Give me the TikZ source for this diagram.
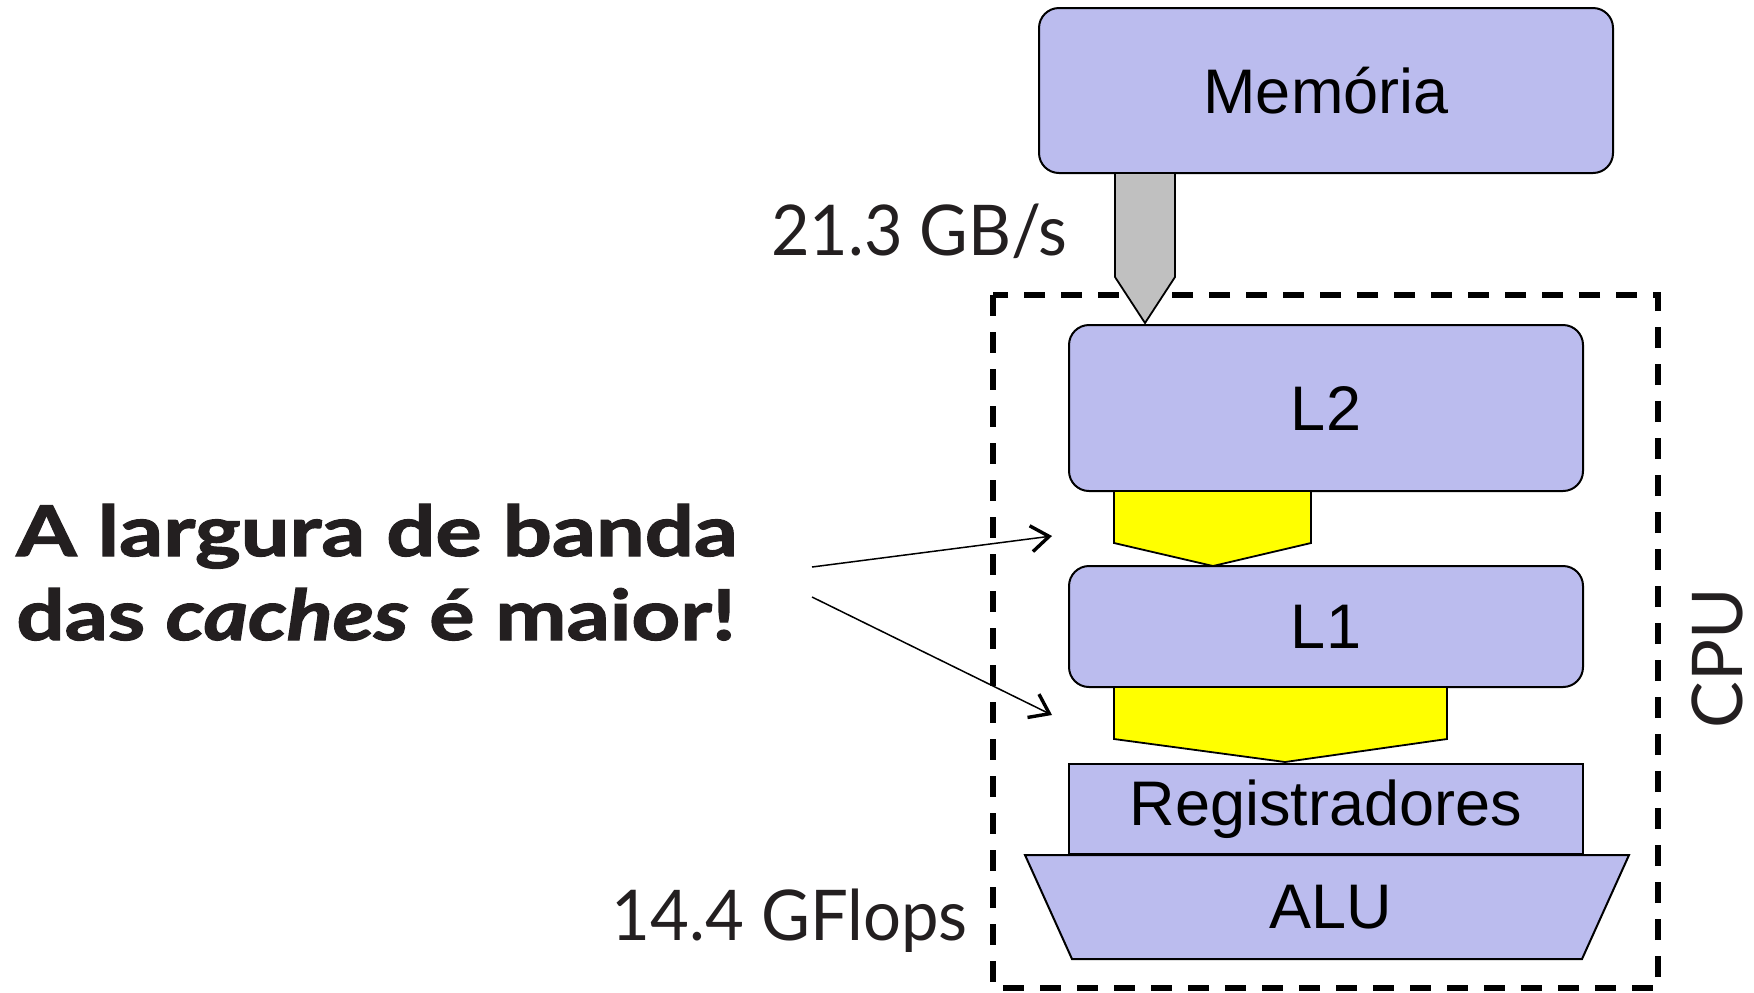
\documentclass[tikz,border=0pt]{standalone}
\usepackage{fontspec}
\setmainfont{Liberation Sans}
\newfontfamily\gill{Lato}
\newfontfamily\heavyface{Lato}[BoldFeatures={FakeBold=1.6},BoldItalicFeatures={FakeBold=1.6}]
\newcommand\heavytext{\heavyface\bfseries}
\usetikzlibrary{arrows.meta}
\definecolor{lav}{RGB}{187,188,238}
\definecolor{ink}{RGB}{35,31,32}
\definecolor{busgray}{RGB}{192,192,192}
\definecolor{busyellow}{RGB}{255,255,0}
\begin{document}
\begin{tikzpicture}[x=0.5pt,y=-0.5pt,
  unit/.style={draw, line width=1pt, fill=lav, inner sep=0pt,
    font=\fontsize{31.5}{36}\selectfont},
  roundbox/.style={unit, rounded corners=10pt},
  bus/.style={draw, line width=0.9pt, line join=miter},
  cpubox/.style={draw, line width=2.75pt, dash pattern=on 10.5pt off 8pt},
  gauge/.style={font=\gill\fontsize{35}{40}\selectfont, text=ink, inner sep=0pt},
  claim/.style={font=\heavytext\fontsize{35}{40}\selectfont, text=ink, inner sep=0pt},
  pointer/.style={line width=0.75pt,
    -{Straight Barb[length=9pt,width=13pt,line width=1.7pt]}}]
\useasboundingbox (0,0) rectangle (1754,992);

% CPU boundary
\draw[cpubox] (993,295) rectangle (1658,988);
\node[gauge, rotate=90] (cpu) at (1717,658) {CPU};

% main memory and its bus into the CPU
\node[roundbox, minimum width=287pt, minimum height=82.5pt] (mem) at (1326,90.5) {Memória};
\node[roundbox, minimum width=257pt, minimum height=83pt] (l2) at (1326,408) {L2};
\draw[bus, fill=busgray] (1115,173) -- (1175,173) -- (1175,277) -- (1145,323) -- (1115,277) -- cycle;

% caches and their buses
\draw[bus, fill=busyellow] (1114,491) -- (1311,491) -- (1311,543) -- (1213,566) -- (1114,543) -- cycle;
\node[roundbox, minimum width=257pt, minimum height=60.5pt] (l1) at (1326,626.5) {L1};
\draw[bus, fill=busyellow] (1114,687) -- (1447,687) -- (1447,739) -- (1285,762) -- (1114,739) -- cycle;
\node[unit, minimum width=257pt, minimum height=45pt] (reg) at (1326,809) {Registradores};
\draw[unit] (1025,855) -- (1629,855) -- (1582,959) -- (1072,959) -- cycle;
\node[font=\fontsize{31.5}{36}\selectfont, inner sep=0pt] (alu) at (1331,907) {ALU};

% bandwidth figures
\node[gauge, anchor=base east] (memrate) at (1068,255) {\scalebox{0.95}[1]{21.3 GB/s}};
\node[gauge, anchor=base east] (aluRate) at (968,940) {\scalebox{0.957}[1]{14.4 GFlops}};

% remark about cache bandwidth
\node[claim, anchor=base west] (claim1) at (16,556) {\scalebox{1.237}[1]{A largura de banda}};
\node[claim, anchor=base west] (claim2) at (16,640) {\scalebox{1.215}[1]{das \textit{caches} é maior!}};
\coordinate (s1) at (812,567);
\coordinate (t1) at (1052,536);
\coordinate (s2) at (812,597);
\coordinate (t2) at (1052,715);
\draw[pointer] (s1) -- (t1);
\draw[pointer] (s2) -- (t2);
\end{tikzpicture}
\end{document}
